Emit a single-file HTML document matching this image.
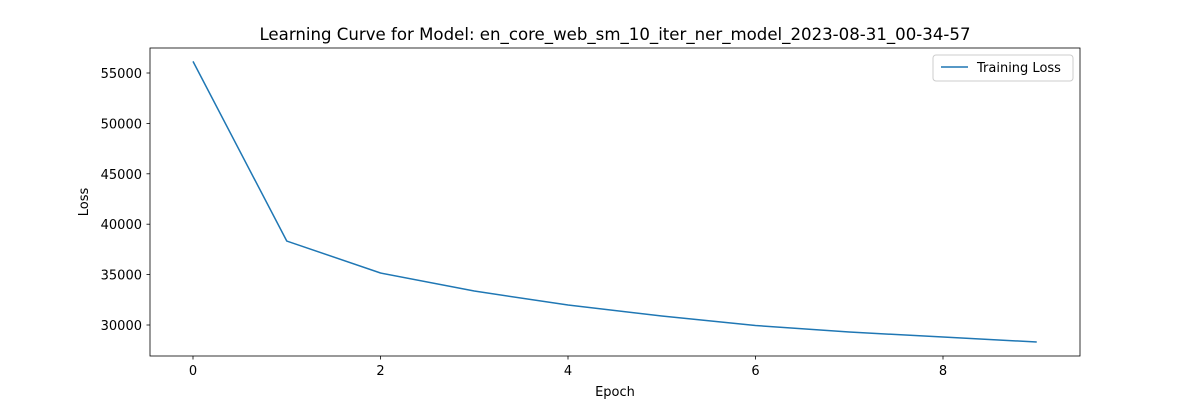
<!DOCTYPE html>
<html><head><meta charset="utf-8"><style>
html,body{margin:0;padding:0;background:#fff;}
svg{display:block;font-family:"DejaVu Sans","Liberation Sans",sans-serif;}
</style></head><body>
<svg id="chart" width="1200" height="400" viewBox="0 0 1200 400" xmlns="http://www.w3.org/2000/svg">
<rect width="1200" height="400" fill="#fff"/>
<text x="615" y="40" text-anchor="middle" font-size="16.6">Learning Curve for Model: en_core_web_sm_10_iter_ner_model_2023-08-31_00-34-57</text>
<g id="ticks"></g>
<path id="line" fill="none" stroke="#1f77b4" stroke-width="1.5"/>
<rect x="150" y="48" width="930" height="308" fill="none" stroke="#000" stroke-width="0.8"/>
<text x="615" y="396" text-anchor="middle" font-size="13">Epoch</text>
<text x="0" y="0" transform="translate(88,202) rotate(-90)" text-anchor="middle" font-size="13">Loss</text>
<g>
<rect x="933" y="55" width="140" height="26" rx="3" fill="#fff" stroke="#ccc" stroke-width="1"/>
<line x1="941" y1="67" x2="968" y2="67" stroke="#1f77b4" stroke-width="1.5"/>
<text x="977" y="72" font-size="13">Training Loss</text>
</g>
</svg>
<script>
const epochs=[0,1,2,3,4,5,6,7,8,9];
const loss=[56150,38330,35160,33370,31980,30890,29950,29300,28810,28310];
const xTicks=[0,2,4,6,8];
const yTicks=[30000,35000,40000,45000,50000,55000];
const X=v=>193+v*93.75;
const Y=v=>325-(v-30000)*0.01008;
const ns="http://www.w3.org/2000/svg";
const g=document.getElementById('ticks');
function mk(t,a){const e=document.createElementNS(ns,t);for(const k in a)e.setAttribute(k,a[k]);g.appendChild(e);return e;}
xTicks.forEach(v=>{
 const l=mk('line',{x1:X(v),x2:X(v),y1:356,y2:359.5,stroke:'#000','stroke-width':0.8});
 
 
 const t=mk('text',{x:X(v),y:375,'text-anchor':'middle','font-size':13});t.textContent=v;
 
 
});
yTicks.forEach(v=>{
 const l=mk('line',{x1:146.5,x2:150,y1:Y(v),y2:Y(v),stroke:'#000','stroke-width':0.8});
 
 
 const t=mk('text',{x:142,y:Y(v)+5,'text-anchor':'end','font-size':13});t.textContent=v;
 
 
});
document.getElementById('line').setAttribute('d',epochs.map((e,i)=>(i?'L':'M')+X(e)+','+Y(loss[i])).join(' '));
</script>
</body></html>
